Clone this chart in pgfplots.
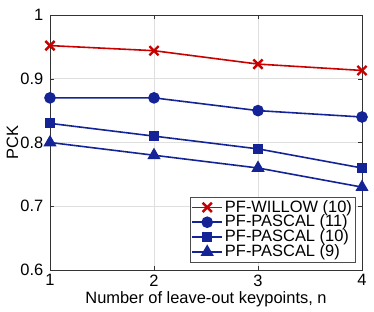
\documentclass[border=0pt]{standalone}
\usepackage{pgfplots}
\pgfplotsset{compat=1.18}
\usepackage{fontspec}
\setmainfont{Liberation Sans}
\definecolor{mred}{RGB}{200,0,0}
\definecolor{mblue}{RGB}{20,35,150}
\begin{document}
\fontsize{16.5}{19}\selectfont
\begin{tikzpicture}
\begin{axis}[
  scale only axis,
  width=312bp, height=255bp,
  xmin=1, xmax=4, ymin=0.6, ymax=1,
  xtick={1,2,3,4}, ytick={0.6,0.7,0.8,0.9,1},
  yticklabels={0.6,0.7,0.8,0.9,1},
  /pgf/number format/assume math mode=true,
  tick label style={font=\fontsize{16.5}{19}\selectfont},
  label style={font=\fontsize{16.5}{19}\selectfont},
  xticklabel style={yshift=1bp},
  yticklabel style={xshift=-1bp},
  xlabel={Number of leave-out keypoints, n},
  ylabel={PCK},
  xlabel style={yshift=6bp},
  ylabel style={yshift=-9bp},
  grid=major,
  grid style={gray!25, line width=0.6pt},
  axis line style={black!80, line width=0.6pt},
  tick style={black!80},
  tick align=inside,
  major tick length=4bp,
  legend cell align=left,
  legend style={font=\fontsize{16.5}{16}\selectfont, draw=black!70, inner sep=1bp, row sep=-3.5bp, at={(0.978,0.03)}, anchor=south east},
  legend image code/.code={\draw[mark repeat=2,mark phase=2,#1] plot coordinates {(0bp,0bp)(15bp,0bp)(30bp,0bp)};},
  every axis plot/.append style={line width=1.6pt},
]
\addplot[color=mred, mark=x, mark size=6.5bp, mark options={line width=2.4pt}] coordinates {(1,0.952)(2,0.944)(3,0.923)(4,0.913)};
\addlegendentry{PF-WILLOW (10)}
\addplot[color=mblue, mark=*, mark size=5bp] coordinates {(1,0.870)(2,0.870)(3,0.850)(4,0.840)};
\addlegendentry{PF-PASCAL (11)}
\addplot[color=mblue, mark=square*, mark size=4.2bp] coordinates {(1,0.830)(2,0.810)(3,0.790)(4,0.760)};
\addlegendentry{PF-PASCAL (10)}
\addplot[color=mblue, mark=triangle*, mark size=6bp] coordinates {(1,0.800)(2,0.780)(3,0.760)(4,0.730)};
\addlegendentry{PF-PASCAL (9)}
\end{axis}
\pgfresetboundingbox
\path (current axis.south west) ++(-50bp,-42bp) coordinate (bl);
\path (current axis.north east) ++(12bp,15bp) coordinate (tr);
\useasboundingbox (bl) rectangle (tr);
\end{tikzpicture}
\end{document}
